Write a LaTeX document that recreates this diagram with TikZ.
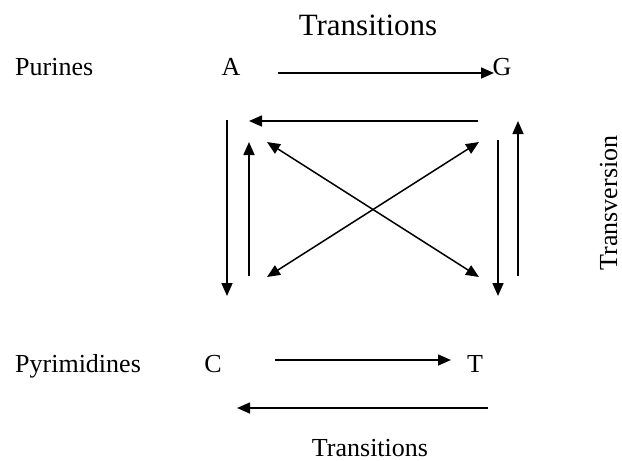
\documentclass[tikz,border=0pt]{standalone}
\usepackage{fontspec}
\setmainfont{Liberation Serif}
\usetikzlibrary{arrows.meta}
\tikzset{
  lbl/.style={inner sep=0pt, anchor=base, font=\fontsize{26}{30}\selectfont},
  title/.style={inner sep=0pt, anchor=base, font=\fontsize{31}{36}\selectfont},
  tip/.style={Triangle[length=13pt,width=11pt]},
  conn/.style={line width=1.6pt, -{Triangle[length=13pt,width=11pt]}},
  biconn/.style={line width=1.5pt, {Triangle[length=13pt,width=11pt]}-{Triangle[length=13pt,width=11pt]}}
}
\begin{document}
\begin{tikzpicture}[x=1pt,y=-1pt]
\useasboundingbox (0,0) rectangle (622,461);

% labels
\node[title] (ttop) at (368,35) {Transitions};
\node[lbl, anchor=base west] (pur) at (15,75) {Purines};
\node[lbl, anchor=base west] (pyr) at (15,372) {Pyrimidines};
\node[lbl] (tbot) at (370,456) {Transitions};
\node[lbl, rotate=90, anchor=base] (tv) at (617,203) {Transversion};

% bases
\node[lbl] (A) at (231,75) {A};
\node[lbl] (G) at (502,75) {G};
\node[lbl] (C) at (213,372) {C};
\node[lbl] (T) at (475,372) {T};

% arrow end points
\coordinate (ag1) at (278,73);  \coordinate (ag2) at (494,73);
\coordinate (ga1) at (478,121); \coordinate (ga2) at (249,121);
\coordinate (ld1) at (227,120); \coordinate (ld2) at (227,296);
\coordinate (lu1) at (249,276); \coordinate (lu2) at (249,142);
\coordinate (rd1) at (498,140); \coordinate (rd2) at (498,296);
\coordinate (ru1) at (518,276); \coordinate (ru2) at (518,121);
\coordinate (d1a) at (267,142); \coordinate (d1b) at (479,277);
\coordinate (d2a) at (479,142); \coordinate (d2b) at (267,277);
\coordinate (ct1) at (275,360); \coordinate (ct2) at (451,360);
\coordinate (tc1) at (488,408); \coordinate (tc2) at (237,408);

% transitions
\draw[conn] (ag1) -- (ag2);
\draw[conn] (ga1) -- (ga2);
\draw[conn] (ct1) -- (ct2);
\draw[conn] (tc1) -- (tc2);
% transversions
\draw[conn] (ld1) -- (ld2);
\draw[conn] (lu1) -- (lu2);
\draw[conn] (rd1) -- (rd2);
\draw[conn] (ru1) -- (ru2);
\draw[biconn] (d1a) -- (d1b);
\draw[biconn] (d2a) -- (d2b);
\end{tikzpicture}
\end{document}
